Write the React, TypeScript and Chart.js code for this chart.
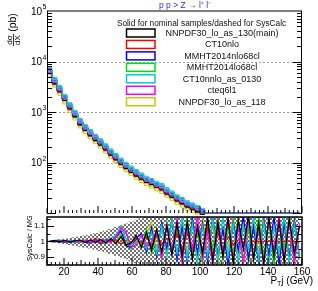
import React, { useEffect, useRef } from 'react';
import { Chart, registerables } from 'chart.js';
Chart.register(...registerables);

// ---------- data ----------
const binCenters = [11.5, 14.5, 17.5, 20.5, 23.5, 26.5, 29.5, 32.5, 35.5, 38.5, 41.5, 44.5, 47.5, 50.5, 53.5, 56.5, 59.5, 62.5, 65.5, 68.5, 71.5, 74.5, 77.5, 80.5, 83.5, 86.5, 89.5, 92.5, 95.5, 98.5, 101.5, 104.5, 107.5, 110.5, 113.5, 116.5, 119.5, 122.5, 125.5, 128.5, 131.5, 134.5, 137.5, 140.5, 143.5, 146.5, 149.5, 152.5, 155.5, 158.5];

const nominalVals = [6300, 3950, 2750, 1850, 1260, 880, 610, 470, 370, 297, 243, 194, 153, 124, 101, 83, 70, 59, 51, 44, 40, 35, 31.5, 26, 22.5, 19, 16.6, 14.4, 13, 11.5, 10.2, 8.9, 7.9, 7.1, 6.3, 5.7, 5.0, 4.5, 4.0, 3.6, 3.2, 2.9, 2.6, 2.3, 2.1, 1.9, 1.7, 1.5, 1.35, 1.2];
const cyanVals = [7000, 4400, 3050, 2050, 1400, 980, 680, 520, 410, 330, 270, 215, 170, 138, 112, 92, 78, 66, 57, 49, 44, 39, 35, 29, 25, 21, 18.5, 16, 14.5, 12.8, 11.3, 9.9, 8.8, 7.9, 7.0, 6.3, 5.6, 5.0, 4.5, 4.0, 3.6, 3.2, 2.9, 2.6, 2.3, 2.1, 1.9, 1.7, 1.5, 1.35];
const magentaVals = [6650, 4180, 2900, 1950, 1330, 930, 645, 495, 390, 314, 257, 205, 162, 131, 107, 87, 74, 63, 54, 46.5, 42, 37, 33, 27.5, 23.8, 20, 17.6, 15.2, 13.8, 12.2, 10.7, 9.4, 8.4, 7.5, 6.7, 6.0, 5.3, 4.8, 4.3, 3.8, 3.4, 3.0, 2.75, 2.5, 2.2, 2.0, 1.8, 1.6, 1.45, 1.3];
const yellowVals = [5400, 3400, 2350, 1580, 1080, 760, 530, 405, 320, 258, 210, 168, 133, 108, 87, 72, 61, 51, 44, 38, 34, 30, 27, 22.5, 19.5, 16.4, 14.4, 12.5, 11.3, 10, 8.8, 7.7, 6.9, 6.2, 5.5, 4.9, 4.4, 3.9, 3.5, 3.1, 2.8, 2.5, 2.3, 2.0, 1.8, 1.6, 1.5, 1.3, 1.2, 1.05];

const ratioBlack = [1.000, 1.004, 0.996, 1.006, 0.995, 1.003, 1.008, 0.994, 1.010, 0.992, 1.012, 0.990, 1.018, 0.985, 1.030, 0.975, 0.990, 1.040, 0.960, 1.060, 0.940, 1.080, 0.930, 1.100, 0.910, 1.120, 0.900, 1.130, 0.880, 1.100, 0.920, 1.160, 0.870, 1.120, 0.900, 1.150, 0.860, 1.140, 0.950, 1.170, 0.880, 1.120, 0.850, 1.160, 0.900, 1.130, 0.870, 1.150, 0.920, 1.100];
const ratioRed = [1.000, 1.002, 0.998, 1.004, 0.997, 1.003, 0.998, 1.006, 0.995, 1.020, 0.990, 1.005, 0.996, 1.010, 0.985, 1.008, 0.995, 1.015, 0.990, 1.030, 0.970, 1.040, 0.980, 1.020, 0.960, 1.050, 0.950, 1.060, 0.940, 1.080, 0.930, 1.100, 0.900, 1.060, 0.950, 1.030, 0.980, 1.010, 0.995, 1.000, 1.000, 1.000, 1.000, 1.000, 1.000, 1.000, 1.000, 1.000, 1.000, 1.000];
const ratioBlue = [1.000, 0.997, 1.005, 0.994, 1.006, 0.990, 1.004, 0.996, 0.988, 1.010, 0.985, 1.012, 1.000, 1.030, 1.070, 0.970, 0.960, 1.020, 1.050, 0.930, 1.090, 0.900, 1.120, 0.950, 1.140, 0.880, 1.100, 0.860, 1.150, 0.920, 1.120, 0.870, 1.160, 0.900, 1.080, 0.850, 1.130, 0.940, 1.170, 0.880, 1.100, 0.860, 1.150, 0.900, 1.160, 0.850, 1.120, 0.890, 1.140, 0.900];
const ratioGreen = [1.000, 1.006, 1.010, 0.995, 1.008, 1.002, 0.992, 1.006, 1.002, 0.995, 1.008, 0.985, 1.015, 0.990, 1.040, 1.000, 0.950, 1.030, 0.970, 1.080, 0.920, 1.050, 0.880, 1.130, 0.940, 1.090, 0.870, 1.150, 0.900, 1.060, 0.860, 1.120, 0.950, 1.170, 0.880, 1.100, 0.920, 1.160, 0.860, 1.090, 0.880, 1.170, 0.900, 1.120, 0.850, 1.140, 0.960, 1.160, 0.870, 1.100];
const ratioCyan = [1.000, 0.995, 1.002, 0.998, 1.004, 0.992, 1.006, 0.998, 1.004, 0.990, 1.006, 1.000, 1.020, 1.040, 1.100, 1.020, 0.970, 1.000, 1.030, 0.950, 1.060, 0.920, 1.100, 0.900, 1.140, 0.920, 1.160, 0.880, 1.120, 0.860, 1.100, 0.900, 1.150, 0.870, 1.170, 0.900, 1.120, 0.860, 1.100, 0.950, 1.160, 0.880, 1.130, 0.850, 1.100, 0.920, 1.170, 0.860, 1.120, 0.900];
const ratioMagenta = [1.000, 1.003, 0.997, 1.002, 0.993, 1.005, 0.996, 1.008, 0.993, 1.005, 0.995, 1.010, 0.990, 1.030, 1.090, 1.060, 0.960, 0.980, 1.040, 0.970, 1.000, 1.070, 0.890, 1.110, 0.930, 1.150, 0.860, 1.100, 0.950, 1.170, 0.880, 1.060, 0.850, 1.140, 0.920, 1.170, 0.870, 1.100, 0.850, 1.160, 0.900, 1.080, 0.860, 1.150, 0.940, 1.170, 0.880, 1.130, 0.850, 1.120];
const ratioYellow = [1.000, 0.998, 1.004, 1.000, 0.996, 1.004, 0.994, 1.003, 1.006, 0.994, 1.004, 0.996, 1.010, 1.000, 1.050, 0.990, 0.980, 1.010, 0.960, 1.040, 1.130, 0.950, 1.080, 0.920, 1.150, 0.900, 1.060, 0.940, 1.130, 0.880, 1.150, 0.920, 1.110, 0.860, 1.080, 0.950, 1.170, 0.900, 1.120, 0.860, 1.150, 0.930, 1.170, 0.880, 1.140, 0.870, 1.100, 0.900, 1.160, 0.880];
const bandDelta = [0.003, 0.007, 0.012, 0.017, 0.023, 0.029, 0.035, 0.041, 0.047, 0.055, 0.063, 0.072, 0.082, 0.094, 0.106, 0.118, 0.130, 0.142, 0.152, 0.160, 0.170, 0.180, 0.190, 0.200, 0.210, 0.220, 0.230, 0.240, 0.250, 0.260, 0.270, 0.280, 0.290, 0.300, 0.310, 0.320, 0.330, 0.340, 0.350, 0.360, 0.370, 0.380, 0.390, 0.400, 0.410, 0.420, 0.430, 0.440, 0.450, 0.460];

const seriesLabels = ['NNPDF30_lo_as_130(main)', 'CT10nlo', 'MMHT2014nlo68cl', 'MMHT2014lo68cl', 'CT10nnlo_as_0130', 'cteq6l1', 'NNPDF30_lo_as_118'];
const seriesColors = ['#000000', '#ff0000', '#0000ff', '#00e000', '#00d0d0', '#ff00ff', '#c8c800'];
const mainValues = [nominalVals, nominalVals, nominalVals, nominalVals, cyanVals, magentaVals, yellowVals];
const ratioValues = [ratioBlack, ratioRed, ratioBlue, ratioGreen, ratioCyan, ratioMagenta, ratioYellow];
const mainDrawOrder = [3, 4, 5, 6, 1, 2, 7];
const ratioDrawOrder = [1, 4, 5, 6, 3, 2, 7];

const xTickValues = [20, 40, 60, 80, 100, 120, 140, 160];
const yDecades = [100000, 10000, 1000, 100];
const yDecadeExp = ['5', '4', '3', '2'];
const gridDecades = [10000, 1000, 100];
const ratioTickValues = [1.1, 1, 0.9];
const ratioTickLabels = ['1.1', '1', '0.9'];

const headerText = 'Solid for nominal samples/dashed for SysCalc';
const processText = 'p p > Z \u2192 l\u207A l\u207B';

const X_MIN = 10, X_MAX = 160, Y_MIN = 10, Y_MAX = 100000, R_MIN = 0.845, R_MAX = 1.16;

const F = (s: number) => `${s}px "Liberation Sans", Arial, sans-serif`;

function hline(ctx: CanvasRenderingContext2D, x1: number, y: number, x2: number) {
  ctx.beginPath(); ctx.moveTo(x1, y); ctx.lineTo(x2, y); ctx.stroke();
}
function vline(ctx: CanvasRenderingContext2D, x: number, y1: number, y2: number) {
  ctx.beginPath(); ctx.moveTo(x, y1); ctx.lineTo(x, y2); ctx.stroke();
}

function drawXTicks(ctx: CanvasRenderingContext2D, x: any, yBase: number) {
  for (let v = 10; v <= 160; v += 2.5) {
    const px = x.getPixelForValue(v);
    const len = v % 20 === 0 ? 7 : v % 10 === 0 ? 5 : 3;
    vline(ctx, px, yBase, yBase - len);
  }
}

const mainDecor = {
  id: 'mainDecor',
  beforeDatasetsDraw(chart: any) {
    const { ctx, chartArea: a, scales } = chart;
    ctx.save();
    ctx.strokeStyle = '#a0a0a0';
    ctx.lineWidth = 1;
    ctx.setLineDash([2, 2]);
    for (const v of gridDecades) {
      const py = Math.round(scales.y.getPixelForValue(v)) + 0.5;
      hline(ctx, a.left, py, a.right);
    }
    ctx.restore();
  },
  afterDraw(chart: any) {
    const { ctx, chartArea: a, scales } = chart;
    const y = scales.y, x = scales.x;
    ctx.save();
    ctx.strokeStyle = '#808080';
    ctx.lineWidth = 2;
    hline(ctx, a.left, a.top, a.right);
    ctx.strokeStyle = '#000';
    ctx.lineWidth = 1;
    vline(ctx, a.left + 0.5, a.top, a.bottom);
    vline(ctx, a.right - 0.5, a.top, a.bottom);
    for (let d = 1; d <= 4; d++) {
      for (let m = 1; m <= 9; m++) {
        const v = m * Math.pow(10, d);
        if (v < Y_MIN || v > Y_MAX) continue;
        const py = Math.round(y.getPixelForValue(v)) + 0.5;
        const len = m === 1 ? 9 : 5;
        hline(ctx, a.left, py, a.left + len);
        hline(ctx, a.right, py, a.right - len);
      }
    }
    drawXTicks(ctx, x, a.bottom);
    ctx.fillStyle = '#000';
    yDecades.forEach((v, i) => {
      const py = y.getPixelForValue(v);
      ctx.font = F(10);
      ctx.textAlign = 'right';
      ctx.textBaseline = 'middle';
      ctx.fillText('10', 42, py + 1);
      ctx.font = F(7);
      ctx.textAlign = 'left';
      ctx.fillText(yDecadeExp[i], 42.5, py - 3.5);
    });
    ctx.save();
    ctx.translate(13.5, 47);
    ctx.rotate(-Math.PI / 2);
    ctx.textAlign = 'center';
    ctx.textBaseline = 'alphabetic';
    ctx.font = F(8);
    ctx.fillText('d\u03C3', 7, -1.5);
    ctx.fillText('dX', 7, 6.5);
    ctx.lineWidth = 0.8;
    hline(ctx, 1, 0, 13);
    ctx.font = F(10.5);
    ctx.textBaseline = 'middle';
    ctx.fillText('(pb)', 24.5, 0);
    ctx.restore();
    ctx.fillStyle = '#3333cc';
    ctx.font = F(8.5);
    ctx.textAlign = 'left';
    ctx.textBaseline = 'middle';
    ctx.fillText(processText, 159, 6);
    ctx.fillStyle = '#111';
    ctx.font = F(8.3);
    ctx.textAlign = 'center';
    ctx.fillText(headerText, 201.5, 24);
    const ds = chart.data.datasets;
    ds.forEach((d: any, i: number) => {
      const ry = 33 + i * 11.45;
      ctx.strokeStyle = d.borderColor;
      ctx.lineWidth = 1.5;
      ctx.strokeRect(126.5, ry - 4, 28.5, 8);
      ctx.fillStyle = '#111';
      ctx.font = F(9);
      ctx.textAlign = 'center';
      ctx.fillText(d.label, 222, ry + 0.5);
    });
    ctx.restore();
  },
};

const ratioDecor = {
  id: 'ratioDecor',
  afterDraw(chart: any) {
    const { ctx, chartArea: a, scales } = chart;
    const x = scales.x, y = scales.y;
    ctx.save();
    ctx.strokeStyle = '#000';
    ctx.lineWidth = 1.5;
    ctx.strokeRect(a.left, a.top, a.right - a.left, a.bottom - a.top);
    ctx.lineWidth = 1;
    for (let k = 17; k <= 23; k++) {
      const v = k * 0.05;
      const py = Math.round(y.getPixelForValue(v)) + 0.5;
      const len = k % 2 === 0 ? 7 : 3.5;
      hline(ctx, a.left, py, a.left + len);
      hline(ctx, a.right, py, a.right - len);
    }
    drawXTicks(ctx, x, a.bottom);
    ctx.fillStyle = '#000';
    ctx.font = F(8);
    ctx.textAlign = 'right';
    ctx.textBaseline = 'middle';
    ratioTickValues.forEach((v, i) => {
      ctx.fillText(ratioTickLabels[i], 45, y.getPixelForValue(v));
    });
    ctx.font = F(10);
    ctx.textAlign = 'center';
    xTickValues.forEach((v) => {
      ctx.fillText(String(v), x.getPixelForValue(v), a.bottom + 7.5);
    });
    ctx.save();
    ctx.translate(30, (a.top + a.bottom) / 2 - 3);
    ctx.rotate(-Math.PI / 2);
    ctx.font = F(7.5);
    ctx.textAlign = 'center';
    ctx.fillText('SysCalc / MG', 0, 0);
    ctx.restore();
    ctx.textAlign = 'right';
    ctx.textBaseline = 'alphabetic';
    ctx.font = F(10);
    const rest = 'j (GeV)';
    const wRest = ctx.measureText(rest).width;
    const xr = 313;
    ctx.fillText(rest, xr, a.bottom + 19);
    ctx.font = F(7);
    const wT = ctx.measureText('T').width;
    ctx.fillText('T', xr - wRest, a.bottom + 21);
    ctx.font = F(10);
    ctx.fillText('P', xr - wRest - wT, a.bottom + 19);
    ctx.restore();
  },
};

function makeChecker(): CanvasPattern | string {
  const c = document.createElement('canvas');
  c.width = 4; c.height = 4;
  const g = c.getContext('2d');
  if (!g) return '#b0b0b0';
  g.fillStyle = '#ffffff';
  g.fillRect(0, 0, 4, 4);
  g.fillStyle = '#707070';
  g.fillRect(0, 0, 2, 2);
  g.fillRect(2, 2, 2, 2);
  const p = g.createPattern(c, 'repeat');
  return p || '#b0b0b0';
}

export default function App() {
  const mainRef = useRef<HTMLCanvasElement>(null);
  const ratioRef = useRef<HTMLCanvasElement>(null);

  useEffect(() => {
    const mainDatasets = seriesLabels.map((label, i) => {
      const vals = mainValues[i];
      return {
        label,
        data: binCenters.map((c, j) => ({ x: c, y: Math.max(vals[j], Y_MIN) })),
        borderColor: seriesColors[i],
        backgroundColor: 'rgba(0,0,0,0)',
        borderWidth: 1.2,
        stepped: 'middle' as const,
        pointStyle: 'rect' as const,
        pointRadius: (ctx: any) => (vals[ctx.dataIndex] < Y_MIN ? 0 : 2.8),
        pointBorderWidth: 1,
        pointBorderColor: seriesColors[i],
        pointBackgroundColor: 'rgba(0,0,0,0)',
        fill: false,
        order: mainDrawOrder[i],
        clip: { left: 0, top: 0, right: 0, bottom: 2 },
      };
    });

    const pattern = makeChecker();
    const ratioDatasets: any[] = seriesLabels.map((label, i) => ({
      label,
      data: binCenters.map((c, j) => ({ x: c, y: ratioValues[i][j] })),
      borderColor: seriesColors[i],
      borderWidth: 1.3,
      pointRadius: 0,
      fill: false,
      order: ratioDrawOrder[i],
    }));
    ratioDatasets.push({
      label: 'bandUp',
      data: binCenters.map((c, j) => ({ x: c, y: 1 + bandDelta[j] })),
      borderWidth: 0,
      borderColor: 'rgba(0,0,0,0)',
      pointRadius: 0,
      stepped: 'middle',
      fill: false,
      order: 20,
    });
    ratioDatasets.push({
      label: 'bandLo',
      data: binCenters.map((c, j) => ({ x: c, y: 1 - bandDelta[j] })),
      borderWidth: 0,
      borderColor: 'rgba(0,0,0,0)',
      backgroundColor: pattern,
      pointRadius: 0,
      stepped: 'middle',
      fill: '-1',
      order: 21,
    });

    const common = {
      responsive: false,
      animation: false as const,
      devicePixelRatio: 1,
      events: [] as any[],
    };

    const c1 = new Chart(mainRef.current as HTMLCanvasElement, {
      type: 'line',
      data: { datasets: mainDatasets as any },
      options: {
        ...common,
        layout: { padding: { left: 47, right: 16, top: 11, bottom: 2 } },
        plugins: { legend: { display: false }, tooltip: { enabled: false } },
        scales: {
          x: { type: 'linear', min: X_MIN, max: X_MAX, display: false },
          y: { type: 'logarithmic', min: Y_MIN, max: Y_MAX, display: false },
        },
      },
      plugins: [mainDecor],
    });

    const c2 = new Chart(ratioRef.current as HTMLCanvasElement, {
      type: 'line',
      data: { datasets: ratioDatasets },
      options: {
        ...common,
        layout: { padding: { left: 47, right: 16, top: 1, bottom: 26 } },
        plugins: { legend: { display: false }, tooltip: { enabled: false } },
        scales: {
          x: { type: 'linear', min: X_MIN, max: X_MAX, display: false },
          y: { type: 'linear', min: R_MIN, max: R_MAX, display: false },
        },
      },
      plugins: [ratioDecor],
    });

    return () => {
      c1.destroy();
      c2.destroy();
    };
  }, []);

  return (
    <div style={{ position: 'absolute', left: 0, top: 0, width: 318, height: 291, background: '#ffffff', overflow: 'hidden' }}>
      <canvas ref={mainRef} width={318} height={218} style={{ position: 'absolute', left: 0, top: 0, width: 318, height: 218 }} />
      <canvas ref={ratioRef} width={318} height={75} style={{ position: 'absolute', left: 0, top: 216, width: 318, height: 75 }} />
    </div>
  );
}
